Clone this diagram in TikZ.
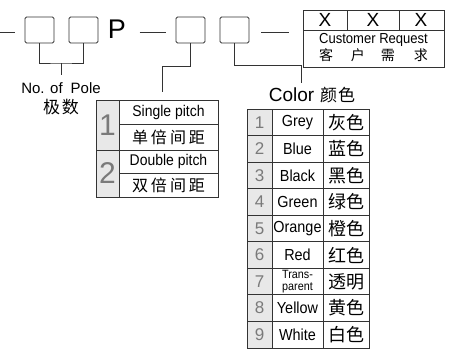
\documentclass[tikz,border=0pt]{standalone}
\usepackage{fontspec}
\setmainfont{Liberation Sans}
\newfontfamily\tabfont[FakeStretch=0.9]{Liberation Sans}
\newfontfamily\cjk{Noto Sans CJK SC}
\usetikzlibrary{positioning}
\definecolor{linegray}{HTML}{333333}
\definecolor{numgray}{HTML}{7A7A7A}
\definecolor{cellgray}{HTML}{E8E8E8}
\newcommand{\fsz}[1]{\fontsize{#1}{#1}\selectfont}

\begin{document}
\begin{tikzpicture}[x=1pt,y=-1pt,
    box/.style={draw=linegray, line width=0.9pt, rounded corners=1.5pt,
      minimum width=29pt, minimum height=26pt, inner sep=0pt},
    line/.style={draw=linegray, line width=0.9pt},
    txt/.style={inner sep=0pt, align=center, font=\fsz{14}},
    cell/.style={inner sep=0pt, align=center, font=\tabfont\fsz{16}},
    zh/.style={inner sep=0pt, font=\cjk\fsz{18}},
    num/.style={inner sep=0pt, text=numgray, font=\fsz{17}}]
    \useasboundingbox (0,0) rectangle (450,360);

    % Code boxes of the part number
    \node[box] (pole1) at (39.5,30) {};
    \node[box] (pole2) at (83.5,30) {};
    \node[txt, font=\fsz{27}] (codeP) at (117,29) {P};
    \node[box] (pitchbox) at (190.5,30) {};
    \node[box] (colorbox) at (234.5,30) {};

    % Dashes between the codes
    \draw[line] ([xshift=-25pt,yshift=-2pt]pole1.west) -- ([xshift=-10pt,yshift=-2pt]pole1.west);
    \draw[line] ([xshift=-36pt,yshift=-2pt]pitchbox.west) -- ([xshift=-10pt,yshift=-2pt]pitchbox.west);
    \draw[line] ([xshift=12pt,yshift=-2pt]colorbox.east) -- ([xshift=40pt,yshift=-2pt]colorbox.east);

    % Customer request box
    \node[draw=linegray, line width=1pt, minimum width=141pt, minimum height=57pt, inner sep=0pt] (cust) at (373.5,38.5) {};
    \draw[line] (303,30) -- (444,30);
    \draw[line] (347,10) -- (347,30);
    \draw[line] (399,10) -- (399,30);
    \node[txt, font=\fsz{19}] (x1) at (325,20) {X};
    \node[txt, font=\fsz{19}] (x2) at (373,20) {X};
    \node[txt, font=\fsz{19}] (x3) at (421,20) {X};
    \node[txt, font=\tabfont\fsz{14.5}] (custen) at (373.5,40) {Customer Request};
    \node[zh, font=\cjk\fsz{14}] (custzh) at (373.5,55) {客\hspace{18pt}户\hspace{16pt}需\hspace{19pt}求};

    % Number of poles
    \node[txt, font=\fsz{15}] (poleen) at (61,88) {No. of\hspace{8pt}Pole};
    \node[zh, font=\cjk\fsz{17}] (polezh) at (61,107) {极\kern2pt 数};
    \coordinate (polejoin) at (61,63);
    \draw[line] (pole1.south) |- (polejoin) -| (pole2.south);
    \draw[line, shorten >=7pt] (polejoin) -- (poleen.north);

    % Pitch
    \coordinate (pitchbend) at (190.5,66);
    \coordinate (pitchend) at (162,92);
    \draw[line] (pitchbox.south) -- (pitchbend) -| (pitchend);

    \fill[cellgray] (96,100) rectangle (119,197);
    \draw[line] (96,100) rectangle (218,197);
    \draw[line] (119,100) -- (119,197);
    \draw[line] (119,124) -- (218,124);
    \draw[line] (96,150) -- (218,150);
    \draw[line] (119,173) -- (218,173);
    \node[num, font=\fsz{30}] (pnum1) at (107.5,125) {1};
    \node[num, font=\fsz{30}] (pnum2) at (107.5,173.5) {2};
    \node[cell, font=\tabfont\fsz{15.5}] (singleen) at (168.5,112.5) {Single pitch};
    \node[zh, font=\cjk\fsz{16}] (singlezh) at (168.5,137) {单\kern3pt 倍\kern3pt 间\kern3pt 距};
    \node[cell, font=\tabfont\fsz{15.5}] (doubleen) at (168.5,161.5) {Double pitch};
    \node[zh, font=\cjk\fsz{16}] (doublezh) at (168.5,185) {双\kern3pt 倍\kern3pt 间\kern3pt 距};

    % Color
    \coordinate (colorbend) at (234.5,65);
    \coordinate (colorend) at (301,83);
    \draw[line] (colorbox.south) -- (colorbend) -| (colorend);
    \node[txt, font=\fsz{19}] (colortitle) at (312,95) {Color\hspace{6pt}{\cjk\fsz{17}颜\kern1pt 色}};

    \fill[cellgray] (247,109) rectangle (272,348);
    \draw[line] (247,109) rectangle (369,348);
    \draw[line] (272,109) -- (272,348);
    \draw[line] (323,109) -- (323,348);
    \foreach \i in {1,...,8}
        \draw[line] (247,109+26.55*\i) -- (369,109+26.55*\i);
    \foreach \n/\en/\zhtext/\sz in {1/Grey/灰色/16, 2/Blue/蓝色/16, 3/Black/黑色/16,
        4/Green/绿色/16, 5/Orange/橙色/16, 6/Red/红色/16, 7/Trans-\\parent/透明/12,
        8/Yellow/黄色/16, 9/White/白色/16} {
        \node[num] (cnum\n) at (259.5,109+26.55*\n-13.3) {\n};
        \node[cell, font=\tabfont\fsz{\sz}] (cen\n) at (297.5,109+26.55*\n-13.3) {\en};
        \node[zh] (czh\n) at (346,109+26.55*\n-13.3) {\zhtext};
    }
\end{tikzpicture}
\end{document}
